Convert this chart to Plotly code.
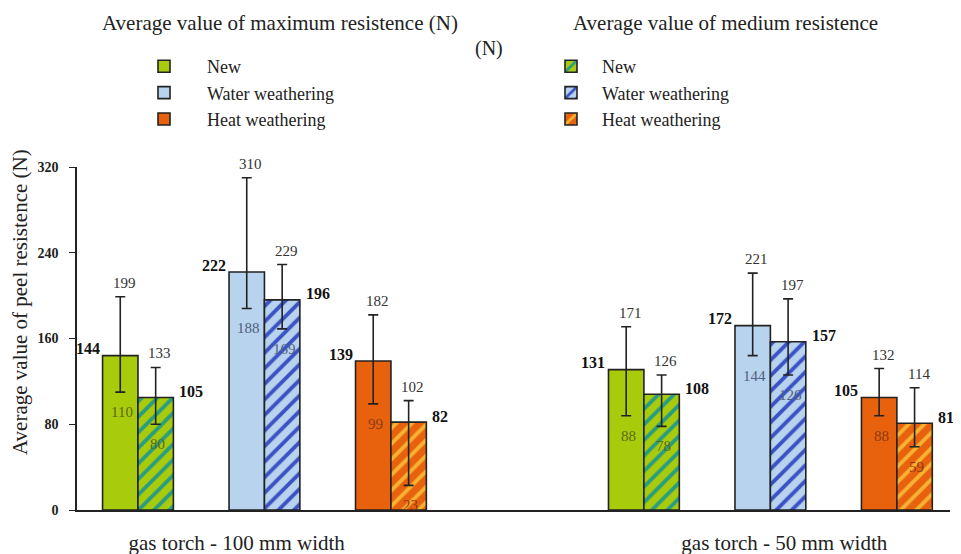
import plotly.graph_objects as go

groups = ["gas torch - 100 mm width", "gas torch - 50 mm width"]
conditions = ["New", "Water weathering", "Heat weathering"]

# order: group1 (New, Water, Heat), group2 (New, Water, Heat)
max_mean = [144, 222, 139, 131, 172, 105]
max_upper = [199, 310, 182, 171, 221, 132]
max_lower = [110, 188, 99, 88, 144, 88]
med_mean = [105, 196, 82, 108, 157, 81]
med_upper = [133, 229, 102, 126, 197, 114]
med_lower = [80, 169, 23, 78, 126, 59]

y_ticks = [0, 80, 160, 240, 320]

base_colors = ["#a8cc0c", "#b8d3ee", "#e8620e"]
stripe_colors = ["#2a9c80", "#3a52c4", "#f7b232"]
low_label_colors = ["#5b6a14", "#4f5f7c", "#8c3a12"]

FONT = "Liberation Serif"
BW = 0.28
GROUP_STEP = 4
GROUP_LABEL_POS = [0.78, 5.11]

# page body has an 8px margin; plot area spans x 77..950, y 167..510 on screen
PL, PT, PW, PH = 77, 167, 873, 343

def px(x):
    return (x - PL) / PW

def py(y):
    return (PT + PH - y) / PH

def pair_center(i):
    return (i % 3) + GROUP_STEP * (i // 3)

fig = go.Figure()

for c, cond in enumerate(conditions):
    idx = [c, c + 3]
    xs_max = [pair_center(i) - BW / 2 for i in idx]
    fig.add_trace(go.Bar(
        x=xs_max, y=[max_mean[i] for i in idx], width=BW, name=cond,
        legend="legend",
        marker=dict(color=base_colors[c], line=dict(color="#222222", width=1.6)),
        error_y=dict(type="data", symmetric=False,
                     array=[max_upper[i] - max_mean[i] for i in idx],
                     arrayminus=[max_mean[i] - max_lower[i] for i in idx],
                     color="#222222", thickness=1.6, width=5),
        hoverinfo="skip",
    ))
for c, cond in enumerate(conditions):
    idx = [c, c + 3]
    xs_med = [pair_center(i) + BW / 2 for i in idx]
    fig.add_trace(go.Bar(
        x=xs_med, y=[med_mean[i] for i in idx], width=BW, name=cond,
        legend="legend2",
        marker=dict(color=base_colors[c], line=dict(color="#222222", width=1.6),
                    pattern=dict(shape="/", fgcolor=stripe_colors[c], bgcolor=base_colors[c],
                                 size=11, solidity=0.35, fillmode="replace")),
        error_y=dict(type="data", symmetric=False,
                     array=[med_upper[i] - med_mean[i] for i in idx],
                     arrayminus=[med_mean[i] - med_lower[i] for i in idx],
                     color="#222222", thickness=1.6, width=5),
        hoverinfo="skip",
    ))

ann = []
for i in range(6):
    c = i % 3
    xm = pair_center(i) - BW / 2
    xd = pair_center(i) + BW / 2
    # mean labels (bold)
    ann.append(dict(x=xm - BW / 2, y=max_mean[i], text=str(max_mean[i]), showarrow=False,
                    xanchor="right", yanchor="middle", xshift=-1, yshift=7,
                    font=dict(family=FONT, size=16, color="#111111", weight="bold")))
    ann.append(dict(x=xd + BW / 2, y=med_mean[i], text=str(med_mean[i]), showarrow=False,
                    xanchor="left", yanchor="middle", xshift=4, yshift=6,
                    font=dict(family=FONT, size=16, color="#111111", weight="bold")))
    # upper labels
    for xx, v in ((xm, max_upper[i]), (xd, med_upper[i])):
        ann.append(dict(x=xx, y=v, text=str(v), showarrow=False, xanchor="center",
                        yanchor="middle", xshift=4, yshift=14,
                        font=dict(family=FONT, size=15, color="#333333")))
    # lower labels
    for xx, v in ((xm, max_lower[i]), (xd, med_lower[i])):
        ann.append(dict(x=xx, y=v, text=str(v), showarrow=False, xanchor="center",
                        yanchor="middle", xshift=2, yshift=-20,
                        font=dict(family=FONT, size=15, color=low_label_colors[c])))

ann += [
    dict(xref="paper", yref="paper", x=px(280), y=py(23),
         text="Average value of maximum resistence (N)",
         showarrow=False, xanchor="center", yanchor="middle",
         font=dict(family=FONT, size=21, color="#222222")),
    dict(xref="paper", yref="paper", x=px(489), y=py(48), text="(N)",
         showarrow=False, xanchor="center", yanchor="middle",
         font=dict(family=FONT, size=20, color="#222222")),
    dict(xref="paper", yref="paper", x=px(725), y=py(23),
         text="Average value of medium resistence",
         showarrow=False, xanchor="center", yanchor="middle",
         font=dict(family=FONT, size=21, color="#222222")),
    dict(xref="paper", yref="paper", x=px(20), y=py(302),
         text="Average value of peel resistence (N)", textangle=-90,
         showarrow=False, xanchor="center", yanchor="middle",
         font=dict(family=FONT, size=21, color="#222222")),
]

legend_common = dict(font=dict(family=FONT, size=18, color="#222222"), bgcolor="rgba(0,0,0,0)",
                     xanchor="left", yanchor="top", tracegroupgap=0,
                     itemclick=False, itemdoubleclick=False)

FIG_W, FIG_H = 953, 546
fig.update_layout(
    width=FIG_W, height=FIG_H,
    margin=dict(l=PL - 8, r=FIG_W - (PL - 8) - PW, t=PT - 8, b=FIG_H - (PT - 8) - PH,
                autoexpand=False),
    paper_bgcolor="white", plot_bgcolor="white",
    barmode="overlay",
    showlegend=True,
    legend=dict(x=px(121), y=py(48), itemwidth=76, **legend_common),
    legend2=dict(x=px(540), y=py(48), itemwidth=52, **legend_common),
    annotations=ann,
    font=dict(family=FONT),
)

fig.update_xaxes(
    range=[-0.482, 6.42], showgrid=False, zeroline=False,
    showline=True, linecolor="#222222", linewidth=1.6,
    tickvals=GROUP_LABEL_POS, ticktext=groups, ticks="",
    ticklabelstandoff=13,
    tickfont=dict(family=FONT, size=21, color="#222222"),
)
fig.update_yaxes(
    range=[0, 320], tickvals=y_ticks, showgrid=False, zeroline=False,
    showline=True, linecolor="#222222", linewidth=1.6,
    ticks="outside", ticklen=6, tickcolor="#222222", tickwidth=1.3,
    ticklabelstandoff=8,
    tickfont=dict(family=FONT, size=14, color="#222222", weight="bold"),
)

fig.write_html("out.html")
